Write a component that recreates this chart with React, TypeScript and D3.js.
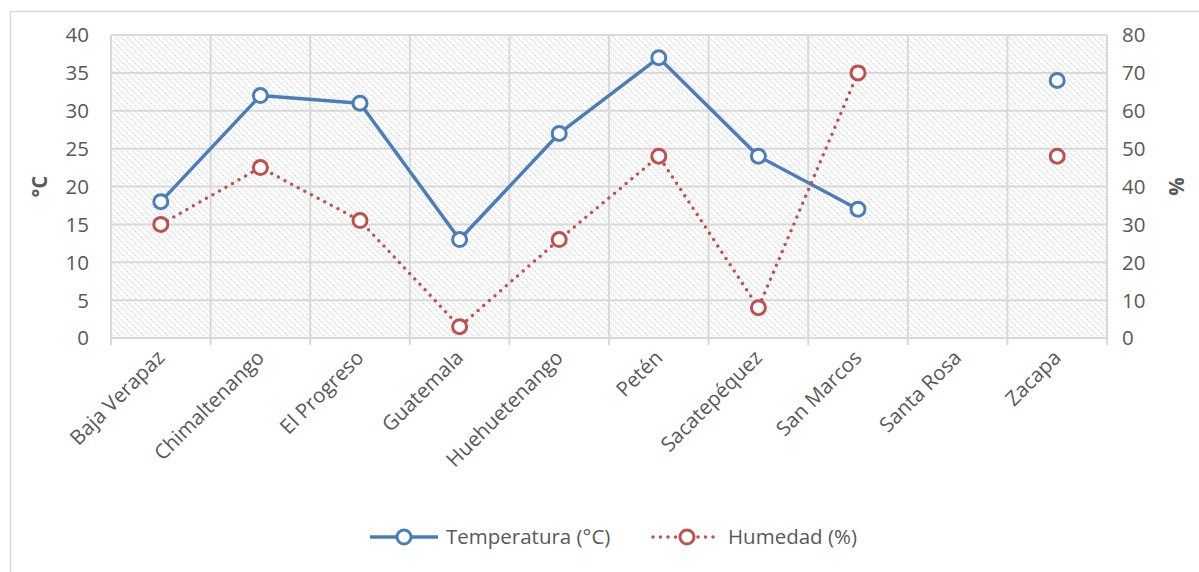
import React from "react";
import * as d3 from "d3";

const categories = ["Baja Verapaz", "Chimaltenango", "El Progreso", "Guatemala", "Huehuetenango", "Petén", "Sacatepéquez", "San Marcos", "Santa Rosa", "Zacapa"];
const temperatura: (number | null)[] = [18, 32, 31, 13, 27, 37, 24, 17, null, 34];
const humedad: (number | null)[] = [30, 45, 31, 3, 26, 48, 8, 70, null, 48];
const leftTicks = [0, 5, 10, 15, 20, 25, 30, 35, 40];
const rightTicks = [0, 10, 20, 30, 40, 50, 60, 70, 80];

const W = 1199, H = 572;
const plot = { left: 111, right: 1107, top: 35, bottom: 338 };
const FONT = "'Open Sans', 'Noto Sans', sans-serif";
const FS = 20.5;
const TXT = "#595959";
const GRID = "#d9d9d9";
const BLUE = "#4a7ebb";
const RED = "#c0504d";

export default function App() {
  const x = d3.scaleBand<string>().domain(categories).range([plot.left, plot.right]);
  const yL = d3.scaleLinear().domain([0, 40]).range([plot.bottom, plot.top]);
  const yR = d3.scaleLinear().domain([0, 80]).range([plot.bottom, plot.top]);
  const cx = (c: string) => (x(c) as number) + x.bandwidth() / 2;

  const lineT = d3.line<number | null>()
    .defined((d) => d !== null)
    .x((_, i) => cx(categories[i]))
    .y((d) => yL(d as number));
  const lineH = d3.line<number | null>()
    .defined((d) => d !== null)
    .x((_, i) => cx(categories[i]))
    .y((d) => yR(d as number));

  const boundaries = categories.map((c) => x(c) as number).concat([plot.right]);

  return (
    <svg width={W} height={H} style={{ position: "absolute", left: 0, top: 0 }} fontFamily={FONT}>
      <defs>
        <pattern id="hatch" patternUnits="userSpaceOnUse" width="6" height="6">
          <path d="M-1,-1 L7,7 M-1,5 L1,7 M5,-1 L7,1" stroke="#d4d4d4" strokeWidth="1.2" strokeDasharray="1.8 1.1" />
        </pattern>
      </defs>
      <rect x={0} y={0} width={W} height={H} fill="#fff" />
      <rect x={10.5} y={11.5} width={W + 20} height={H + 20} fill="none" stroke={GRID} strokeWidth={1.5} />
      <rect x={plot.left} y={plot.top} width={plot.right - plot.left} height={plot.bottom - plot.top} fill="url(#hatch)" />
      {leftTicks.map((t) => (
        <line key={"h" + t} x1={plot.left} x2={plot.right} y1={yL(t)} y2={yL(t)} stroke={GRID} strokeWidth={2} />
      ))}
      {boundaries.map((b, i) => (
        <line key={"v" + i} x1={b} x2={b} y1={plot.top} y2={plot.bottom + 7} stroke={GRID} strokeWidth={2} />
      ))}
      {leftTicks.map((t) => (
        <text key={"l" + t} x={89} y={yL(t)} dy="0.36em" textAnchor="end" fontSize={FS} fill={TXT}>{t}</text>
      ))}
      {rightTicks.map((t) => (
        <text key={"r" + t} x={1122} y={yR(t)} dy="0.36em" textAnchor="start" fontSize={FS} fill={TXT}>{t}</text>
      ))}
      <text transform={`translate(47,${(plot.top + plot.bottom) / 2}) rotate(-90)`} textAnchor="middle" fontSize={FS} fontWeight="bold" fill={TXT}>°C</text>
      <text transform={`translate(1184,${(plot.top + plot.bottom) / 2}) rotate(-90)`} textAnchor="middle" fontSize={FS} fontWeight="bold" fill={TXT}>%</text>
      {categories.map((c) => (
        <text key={"c" + c} transform={`translate(${cx(c) + 5},${plot.bottom + 21}) rotate(-45)`} textAnchor="end" fontSize={FS} fill={TXT}>{c}</text>
      ))}
      <path d={lineT(temperatura) || ""} fill="none" stroke={BLUE} strokeWidth={3.5} strokeLinejoin="round" strokeLinecap="round" />
      <path d={lineH(humedad) || ""} fill="none" stroke={RED} strokeWidth={3.5} strokeDasharray="0 7.5" strokeLinecap="round" />
      {humedad.map((d, i) => d === null ? null : (
        <circle key={"hm" + i} cx={cx(categories[i])} cy={yR(d)} r={7} fill="#fff" stroke={RED} strokeWidth={3} />
      ))}
      {temperatura.map((d, i) => d === null ? null : (
        <circle key={"tm" + i} cx={cx(categories[i])} cy={yL(d)} r={7} fill="#fff" stroke={BLUE} strokeWidth={3} />
      ))}
      <g>
        <line x1={370} x2={438} y1={537} y2={537} stroke={BLUE} strokeWidth={3.5} />
        <circle cx={404} cy={537} r={7} fill="#fff" stroke={BLUE} strokeWidth={3} />
        <text x={446} y={537} dy="0.36em" fontSize={FS} fill={TXT}>Temperatura (°C)</text>
        <line x1={653} x2={720} y1={537} y2={537} stroke={RED} strokeWidth={3.5} strokeDasharray="0 7.5" strokeLinecap="round" />
        <circle cx={687} cy={537} r={7} fill="#fff" stroke={RED} strokeWidth={3} />
        <text x={728} y={537} dy="0.36em" fontSize={FS} fill={TXT}>Humedad (%)</text>
      </g>
    </svg>
  );
}
